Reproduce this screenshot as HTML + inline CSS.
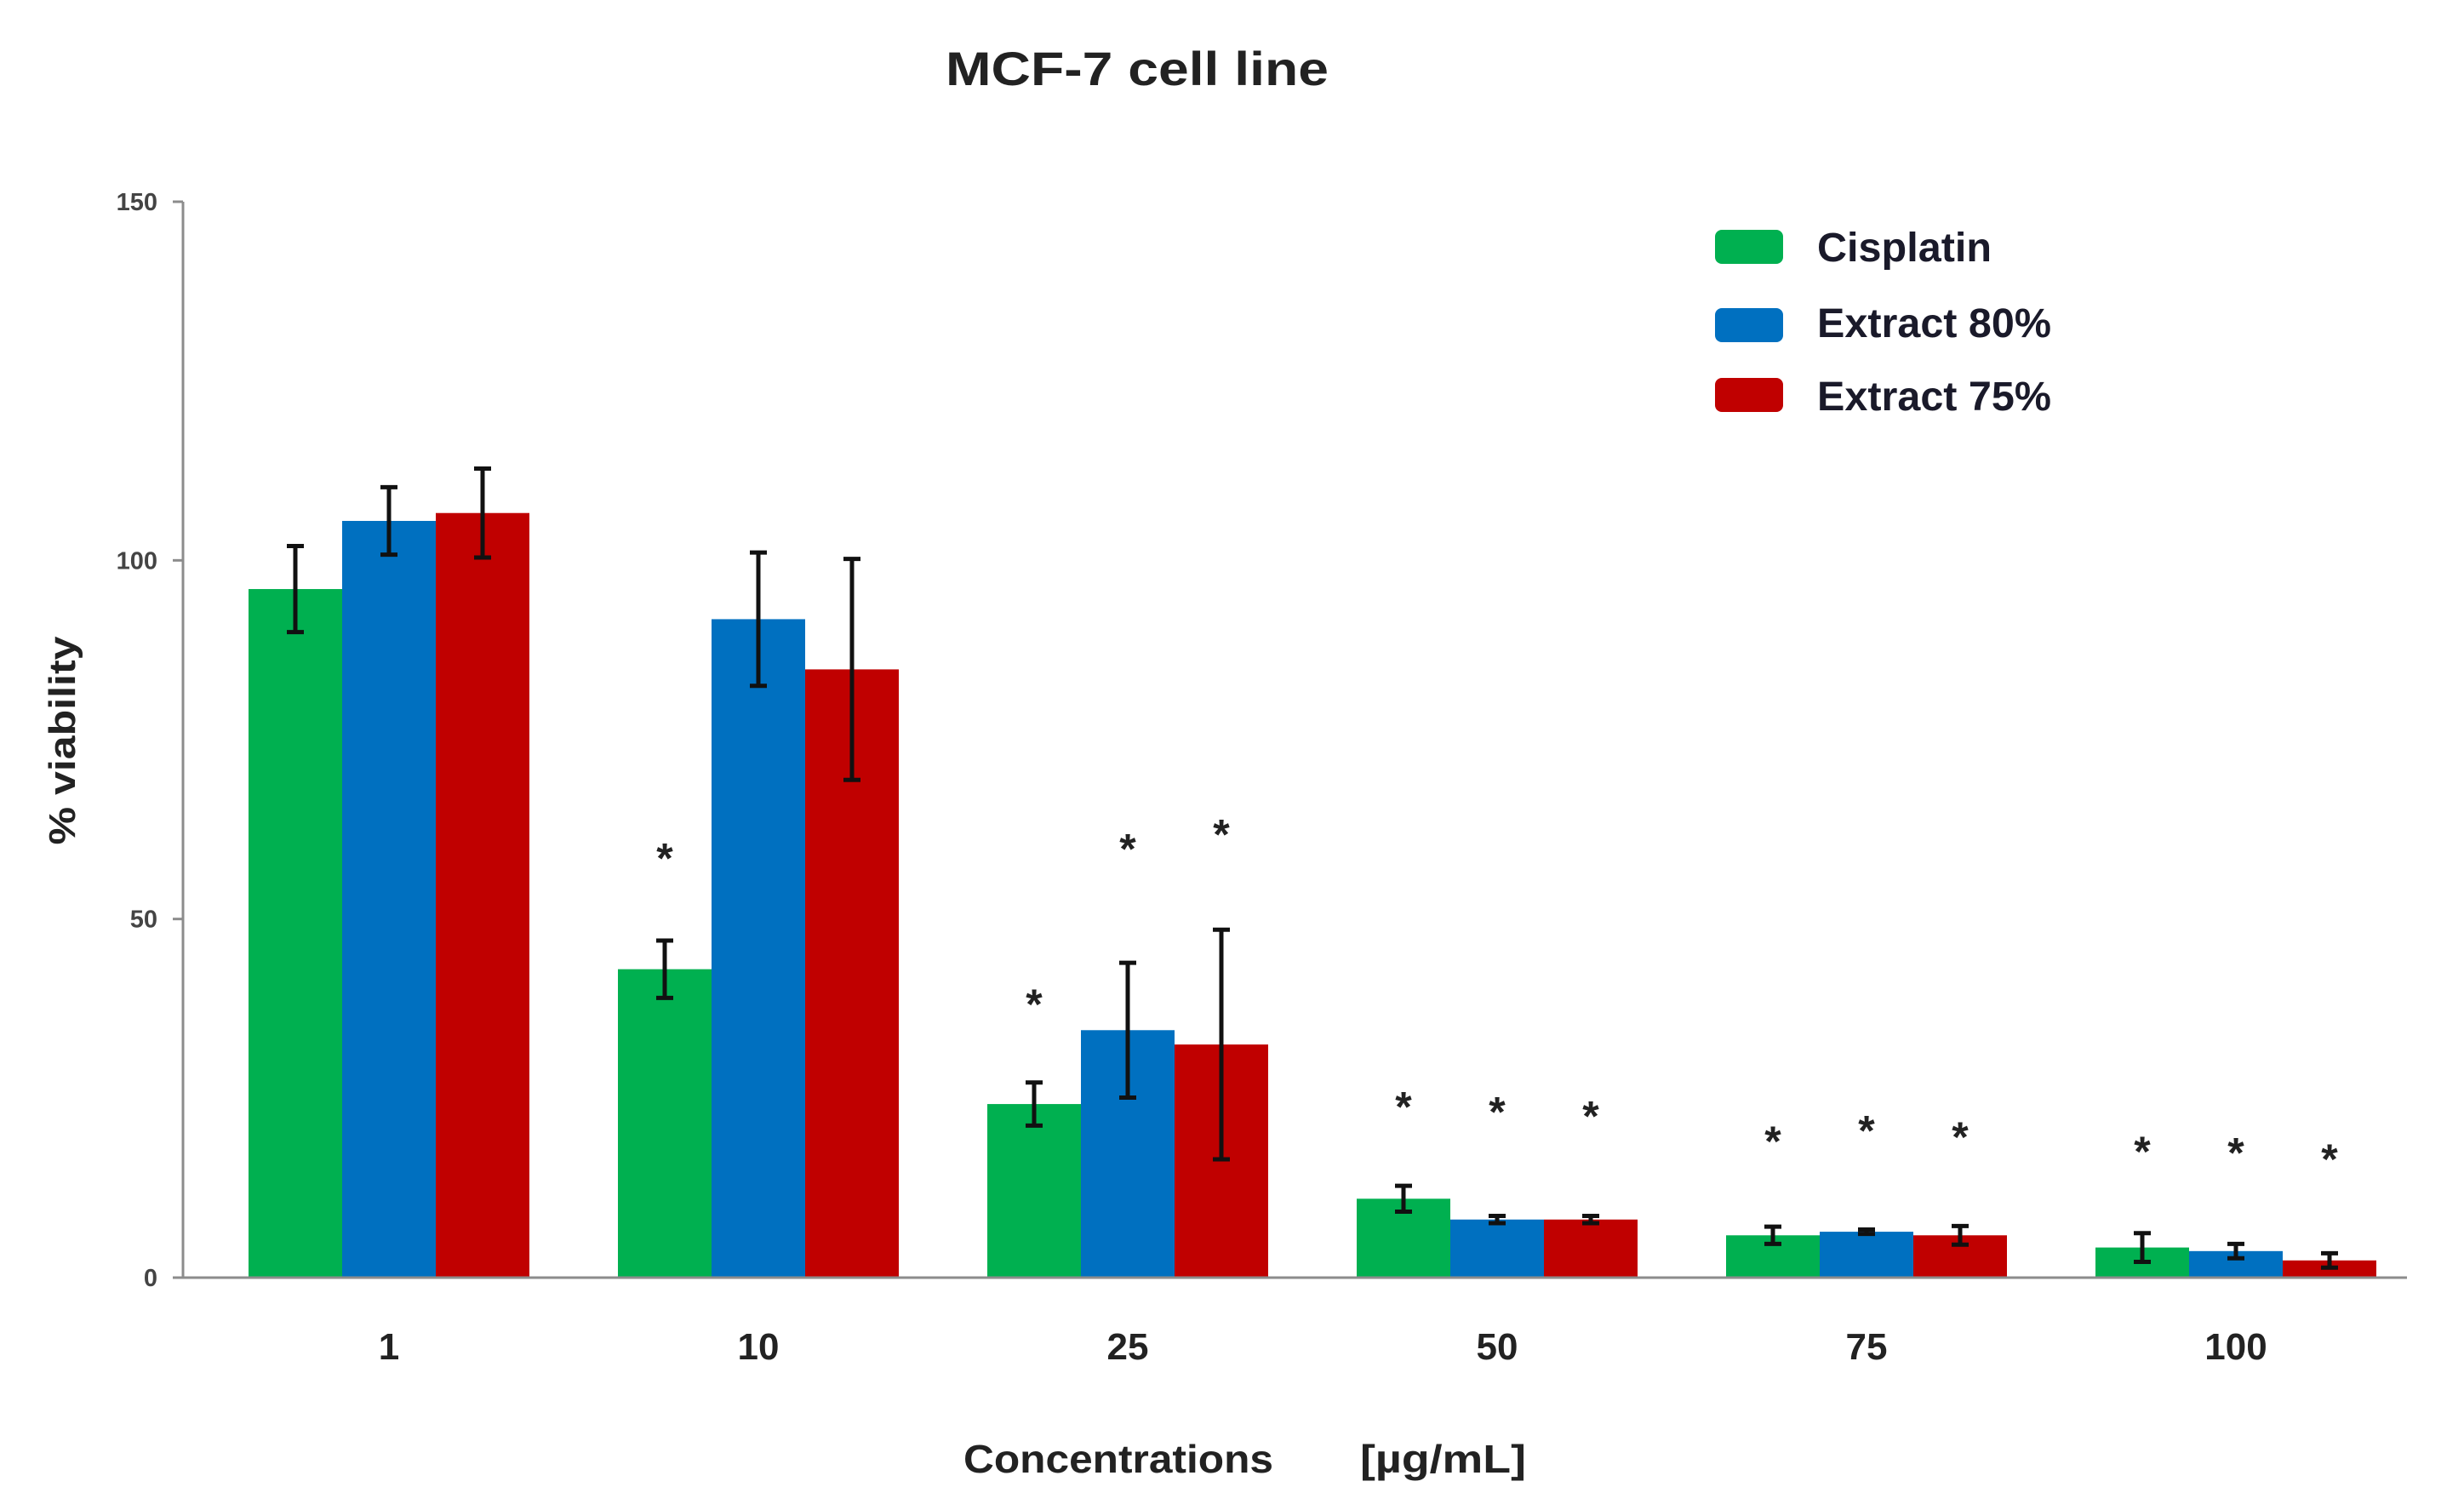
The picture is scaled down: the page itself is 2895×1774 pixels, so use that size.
<!DOCTYPE html>
<html><head><meta charset="utf-8"><style>
html,body{margin:0;padding:0;background:#fff;}
svg{display:block;}
text{font-family:"Liberation Sans",sans-serif;}
</style></head><body>
<svg id="chart" width="2895" height="1774" viewBox="0 0 2895 1774" xmlns="http://www.w3.org/2000/svg">
<text x="1336" y="100" text-anchor="middle" font-size="56" font-weight="bold" fill="#222" textLength="450" lengthAdjust="spacingAndGlyphs">MCF-7  cell line</text>
<text transform="translate(88,870) rotate(-90)" text-anchor="middle" font-size="44" font-weight="bold" fill="#222" textLength="245" lengthAdjust="spacingAndGlyphs">% viability</text>
<text x="1132" y="1730" font-size="46" font-weight="bold" fill="#222" textLength="364" lengthAdjust="spacingAndGlyphs">Concentrations</text>
<text x="1598" y="1730" font-size="46" font-weight="bold" fill="#222" textLength="195" lengthAdjust="spacingAndGlyphs">[µg/mL]</text>
<g id="axes"></g>
<g id="bars"></g>
<g id="legend">
  <rect x="2015" y="270" width="80" height="40" rx="8" fill="#00b050"/>
  <text x="2135" y="307" font-size="48" font-weight="bold" fill="#1a1a2a" textLength="205" lengthAdjust="spacingAndGlyphs">Cisplatin</text>
  <rect x="2015" y="362" width="80" height="40" rx="8" fill="#0070c0"/>
  <text x="2135" y="396" font-size="48" font-weight="bold" fill="#1a1a2a" textLength="275" lengthAdjust="spacingAndGlyphs">Extract 80%</text>
  <rect x="2015" y="444" width="80" height="40" rx="8" fill="#c00000"/>
  <text x="2135" y="482" font-size="48" font-weight="bold" fill="#1a1a2a" textLength="275" lengthAdjust="spacingAndGlyphs">Extract 75%</text>
</g>
</svg>
<script>
const categories = ["1","10","25","50","75","100"];
const cisplatin = [96, 43, 24.2, 11, 5.9, 4.2];
const extract80 = [105.5, 91.8, 34.5, 8.1, 6.4, 3.7];
const extract75 = [106.6, 84.8, 32.5, 8.1, 5.9, 2.4];
const cisplatinErr = [6, 4, 3, 1.8, 1.2, 2];
const extract80Err = [4.7, 9.3, 9.4, 0.5, 0.3, 1];
const extract75Err = [6.2, 15.4, 16, 0.5, 1.3, 1];
const cisplatinStar = [null, 59.3, 38.9, 24.6, 19.8, 18.4];
const extract80Star = [null, null, 60.6, 23.9, 21.3, 18.2];
const extract75Star = [null, null, 62.6, 23.3, 20.4, 17.3];
const yTicks = [0, 50, 100, 150];

const NS = "http://www.w3.org/2000/svg";
const x0 = 215, x1 = 2828, yBase = 1501, yTop = 237, yMax = 150;
const groupStart = 457, groupStep = 434, barW = 110;
function y(v){ return yBase - (v / yMax) * (yBase - yTop); }
function xc(i){ return groupStart + i * groupStep; }
function mk(tag, attrs, parent){
  const e = document.createElementNS(NS, tag);
  for (const k in attrs) e.setAttribute(k, attrs[k]);
  parent.appendChild(e); return e;
}
const axes = document.getElementById("axes");
const bars = document.getElementById("bars");
let a = mk("line", {x1:x0, y1:yTop, x2:x0, y2:yBase, stroke:"#8c8c8c", "stroke-width":3}, axes);


yTicks.forEach(t => {
  const tk = mk("line", {x1:x0-12, y1:y(t), x2:x0, y2:y(t), stroke:"#8c8c8c", "stroke-width":3}, axes);
  
  
  const tl = mk("text", {x:x0-30, y:y(t)+10, "text-anchor":"end", "font-size":29, "font-weight":"bold", fill:"#444"}, axes);
  tl.textContent = t;
  
  
});
const series = [
  {name:"cisplatin", vals:cisplatin, err:cisplatinErr, star:cisplatinStar, color:"#00b050"},
  {name:"extract-80", vals:extract80, err:extract80Err, star:extract80Star, color:"#0070c0"},
  {name:"extract-75", vals:extract75, err:extract75Err, star:extract75Star, color:"#c00000"}
];
categories.forEach((c, i) => {
  series.forEach((s, j) => {
    const bx = xc(i) - 1.5*barW + j*barW;
    const v = s.vals[i];
    const r = mk("rect", {x:bx, y:y(v), width:barW, height:yBase - y(v), fill:s.color}, bars);
    
    
    const cx = bx + barW/2, e = s.err[i];
    const eb = mk("path", {d:`M${cx-10},${y(v+e)}H${cx+10}M${cx},${y(v+e)}V${y(v-e)}M${cx-10},${y(v-e)}H${cx+10}`, stroke:"#111", "stroke-width":5, fill:"none"}, bars);
    
    
    if (s.star[i] !== null) {
      const st = mk("text", {x:cx, y:y(s.star[i])+24, "text-anchor":"middle", "font-size":50, "font-weight":"bold", fill:"#222"}, bars);
      st.textContent = "*";
      
      
    }
  });
  const xl = mk("text", {x:xc(i), y:1597, "text-anchor":"middle", "font-size":44, "font-weight":"bold", fill:"#222"}, axes);
  xl.textContent = c;
  
  
});
let xa = mk("line", {x1:x0-12, y1:yBase, x2:x1, y2:yBase, stroke:"#8c8c8c", "stroke-width":3}, bars);


</script>
</body></html>
